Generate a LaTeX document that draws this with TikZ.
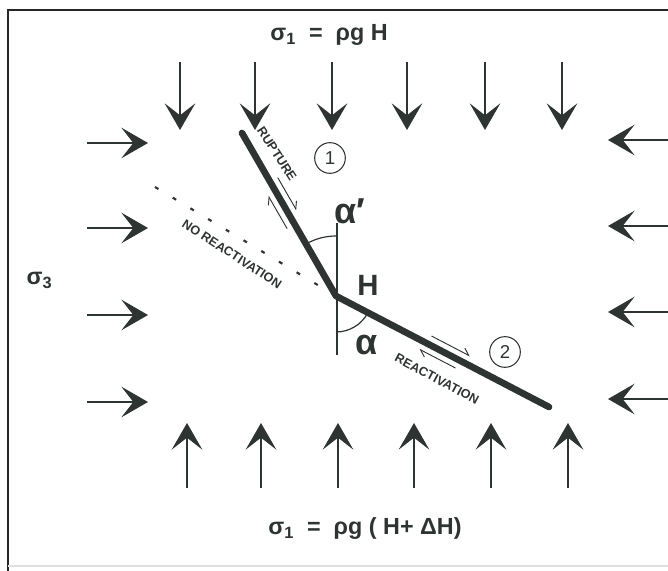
\documentclass[tikz,border=0pt]{standalone}
\usepackage{fontspec}
\setmainfont{Liberation Sans}
\usetikzlibrary{arrows.meta,calc}
\definecolor{inkdk}{RGB}{46,52,50}
\tikzset{
  loadarr/.style={-{Stealth[length=20pt,width=23pt,inset=9pt]}, line width=0.9pt, inkdk},
  faultln/.style={line width=5pt, line cap=round, line join=round, inkdk},
  refln/.style={line width=0.9pt, inkdk},
  dotln/.style={dash pattern=on 3pt off 12.5pt, line width=1.6pt, inkdk},
  shearln/.style={-{Straight Barb[left,length=5pt,width=7pt]}, line width=0.7pt, inkdk},
  smalltxt/.style={font=\bfseries\fontsize{9.5}{10}\selectfont, inkdk, inner sep=0pt},
  eqtxt/.style={font=\bfseries\fontsize{17.5}{19}\selectfont, inkdk, anchor=base},
  angtxt/.style={font=\bfseries\fontsize{27}{30}\selectfont, inkdk},
  circnum/.style={circle, draw=inkdk, line width=0.8pt, minimum size=23pt, inner sep=0pt,
    font=\fontsize{14}{15}\selectfont, inkdk},
}
\begin{document}
\begin{tikzpicture}[x=0.75pt,y=0.75pt]
  \useasboundingbox (0,0) rectangle (668,571);
  % frame of the figure
  \draw[line width=1.2pt, black!85] (8,0) -- (8,561) -- (668,561);
  \draw[line width=1pt, black!12] (8,5) -- (668,5);
  % vertical load: top and bottom
  \foreach \x in {180,255,332,407,485,562}
    \draw[loadarr] (\x,509) -- (\x,441);
  \foreach \x in {187,261,338,414,491,568}
    \draw[loadarr] (\x,83) -- (\x,148);
  % horizontal load: left and right
  \foreach \y in {428,343,256,169}
    \draw[loadarr] (87,\y) -- (148,\y);
  \foreach \y in {431,345,259,172}
    \draw[loadarr] (668,\y) -- (608,\y);
  % stresses
  \node[eqtxt] (s1top) at (329,530) {σ\textsubscript{1} \ = \ ρg H};
  \node[eqtxt] (s1bot) at (365,36) {σ\textsubscript{1} \ = \ ρg ( H+ ΔH)};
  \node[eqtxt, anchor=base west] (s3) at (22,286) {σ\textsubscript{3}};
  % the fault: upper ruptured part, lower reactivated part
  \coordinate (tp) at (242,438);
  \coordinate (H) at (336,275);
  \coordinate (bt) at (549,164);
  \coordinate (nr) at (155,384);
  \draw[dotln] (nr) -- (H);
  \draw[refln] (337,348) -- (337,216);
  \draw[refln] ($(H)+(90:60)$) arc (90:120:60);
  \draw[refln] ($(H)+(270:36)$) arc (270:332.5:36);
  \draw[faultln] (tp) -- (H) -- (bt);
  % sense of slip
  \draw[shearln] ($(tp)!0.30!(H)!6.5pt!90:(H)$) -- ($(tp)!0.50!(H)!6.5pt!90:(H)$);
  \draw[shearln] ($(tp)!0.56!(H)!6.5pt!-90:(H)$) -- ($(tp)!0.36!(H)!6.5pt!-90:(H)$);
  \draw[shearln] ($(H)!0.43!(bt)!6.5pt!90:(bt)$) -- ($(H)!0.61!(bt)!6.5pt!90:(bt)$);
  \draw[shearln] ($(H)!0.58!(bt)!6.5pt!-90:(bt)$) -- ($(H)!0.41!(bt)!6.5pt!-90:(bt)$);
  % labels
  \node[smalltxt, rotate=-57] (rup) at (277,417) {RUPTURE};
  \node[smalltxt, rotate=-33] (norea) at (232,317) {NO REACTIVATION};
  \node[smalltxt, rotate=-28] (rea) at (437,192) {REACTIVATION};
  \node[circnum] (n1) at (330,413) {1};
  \node[circnum] (n2) at (505,219) {2};
  \node[angtxt] (alp1) at (350,360) {α′};
  \node[angtxt] (alp) at (367,226) {α};
  \node[font=\bfseries\fontsize{22}{24}\selectfont, inkdk] (hlbl) at (368,286) {H};
\end{tikzpicture}
\end{document}
